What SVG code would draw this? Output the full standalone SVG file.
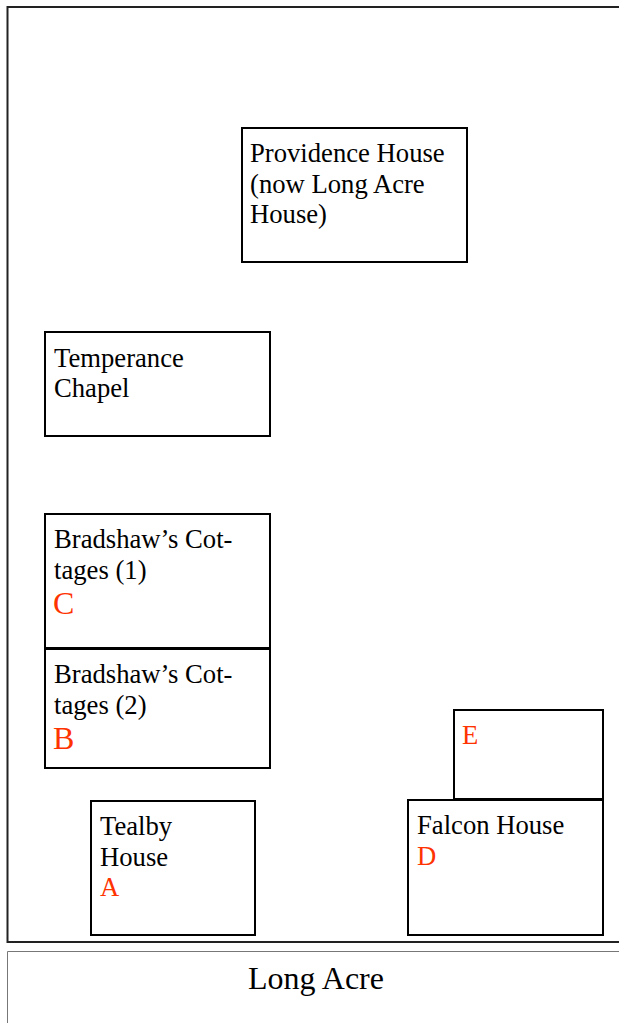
<svg xmlns="http://www.w3.org/2000/svg" width="619" height="1023" viewBox="0 0 619 1023">
<style>
.box{fill:#fff;stroke:#000;stroke-width:2}
text{font-family:'Liberation Serif','Times New Roman',serif;font-size:26.67px}
.t{fill:#000}
.r{fill:#ff3300}
.rb{fill:#ff3300;font-size:32px}
.road{font-size:32px}
</style>
<rect width="619" height="1023" fill="#fff"/>
<g id="frame"><path d="M640,7 H7.5 V942 H640" fill="none" stroke="#222" stroke-width="2"/></g>
<g id="road"><path d="M640,951.5 H7.5 V1030" fill="none" stroke="#777" stroke-width="1"/>
<text class="t road" x="316" y="989" text-anchor="middle">Long Acre</text></g>
<g id="providence"><rect class="box" x="242" y="128" width="225" height="134"/>
<text class="t" x="250" y="162">Providence House</text>
<text class="t" x="250" y="192.5">(now Long Acre</text>
<text class="t" x="250" y="223">House)</text></g>
<g id="temperance"><rect class="box" x="45" y="332" width="225" height="104"/>
<text class="t" x="54" y="366.5">Temperance</text>
<text class="t" x="54" y="397">Chapel</text></g>
<g id="bradshaw1"><rect class="box" x="45" y="514" width="225" height="134"/>
<text class="t" x="54" y="548">Bradshaw’s Cot-</text>
<text class="t" x="54" y="578.5">tages (1)</text>
<text class="rb" x="53" y="614">C</text></g>
<g id="bradshaw2"><rect class="box" x="45" y="649" width="225" height="119"/>
<text class="t" x="54" y="683">Bradshaw’s Cot-</text>
<text class="t" x="54" y="713.5">tages (2)</text>
<text class="rb" x="53" y="749">B</text></g>
<g id="tealby"><rect class="box" x="91" y="801" width="164" height="134"/>
<text class="t" x="100" y="835">Tealby</text>
<text class="t" x="100" y="865.5">House</text>
<text class="r" x="100" y="896">A</text></g>
<g id="e"><rect class="box" x="454" y="710" width="149" height="89"/>
<text class="r" x="462" y="744">E</text></g>
<g id="falcon"><rect class="box" x="408" y="800" width="195" height="135"/>
<text class="t" x="417" y="834">Falcon House</text>
<text class="r" x="417" y="864.5">D</text></g>
<g id="connectors"></g>
</svg>
